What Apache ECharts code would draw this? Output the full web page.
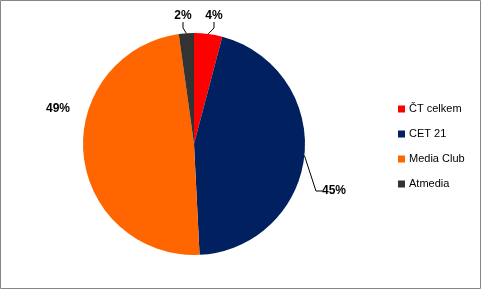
<!DOCTYPE html>
<html>
<head>
<meta charset="utf-8">
<script src="https://cdn.jsdelivr.net/npm/echarts@6/dist/echarts.min.js"></script>
<style>
html,body{margin:0;padding:0;background:#fff;}
#c{width:481px;height:289px;}
</style>
</head>
<body>
<div id="c"></div>
<script>
const categories = ['ČT celkem', 'CET 21', 'Media Club', 'Atmedia'];
const values = [4.1, 45.1, 48.6, 2.2];
const colors = ['#FF0000', '#002060', '#FF6600', '#333333'];

// label placement (styling only)
const labelPos = [
  {x: 214, y: 16, line: true},
  {x: 334, y: 191, line: true},
  {x: 58, y: 109, line: false},
  {x: 183, y: 16, line: true}
];

const chart = echarts.init(document.getElementById('c'));
chart.setOption({
  animation: false,
  graphic: [{
    type: 'rect', silent: true, z: -1,
    shape: {x: 0.5, y: 0.5, width: 480, height: 288},
    style: {fill: '#fff', stroke: '#868686', lineWidth: 1}
  }],
  legend: {
    orient: 'vertical',
    left: 393,
    top: 98,
    icon: 'rect',
    itemWidth: 7,
    itemHeight: 7,
    itemGap: 13,
    textStyle: {fontFamily: 'Liberation Sans', fontSize: 11, color: '#000', lineHeight: 12, padding: [0,0,0,-1]},
    data: categories
  },
  series: [{
    type: 'pie',
    center: [194, 144],
    radius: [0, 111],
    startAngle: 90,
    clockwise: true,
    percentPrecision: 0,
    avoidLabelOverlap: false,
    label: {
      show: true,
      formatter: '{d}%',
      fontFamily: 'Liberation Sans',
      fontWeight: 'bold',
      fontSize: 12,
      color: '#000'
    },
    labelLine: {show: true, lineStyle: {color: '#000', width: 1}, length: 8, length2: 6},
    labelLayout: function (p) {
      const lp = labelPos[p.dataIndex];
      return {x: lp.x, y: lp.y, align: 'center', verticalAlign: 'middle', hideOverlap: false};
    },
    data: categories.map((n, i) => ({
      name: n,
      value: values[i],
      itemStyle: {color: colors[i]},
      labelLine: {show: labelPos[i].line}
    }))
  }]
});
</script>
</body>
</html>
